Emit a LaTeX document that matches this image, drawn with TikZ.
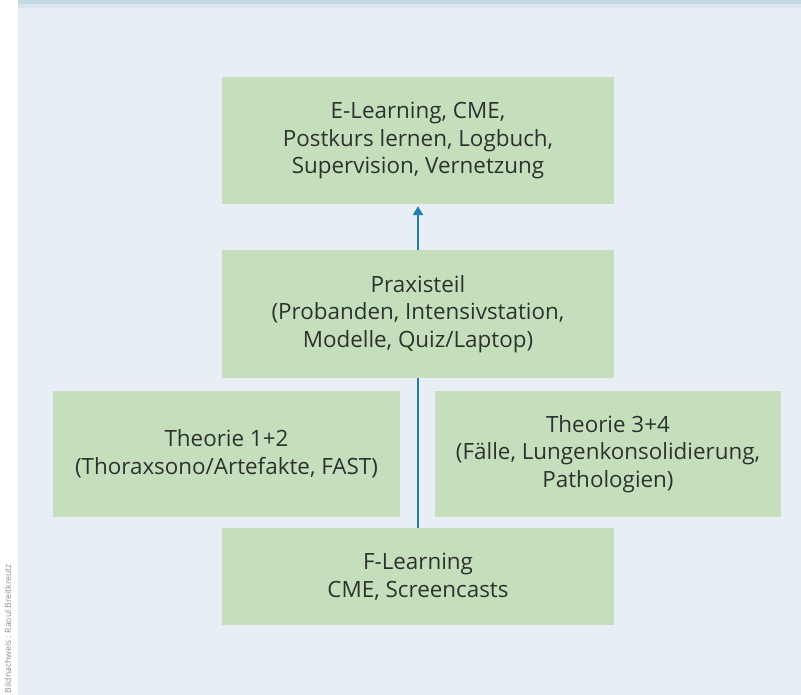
\documentclass[tikz,border=0pt]{standalone}
\usepackage{fontspec}
\setmainfont{Open Sans}
\usetikzlibrary{arrows.meta}
\definecolor{panelbg}{HTML}{E7EEF6}
\definecolor{panelband}{HTML}{C3D8E3}
\definecolor{boxgreen}{HTML}{C5DFBD}
\definecolor{textgrey}{HTML}{2E322F}
\definecolor{linkblue}{HTML}{1F7FAE}
\definecolor{creditgrey}{HTML}{8E8E8E}
\begin{document}
\begin{tikzpicture}[x=1pt,y=-1pt,
  box/.style={fill=boxgreen, draw=none, inner sep=0pt, align=center,
    text=textgrey, font=\fontsize{22.4}{27.5}\selectfont},
  link/.style={draw=linkblue, line width=2.4pt}]
  % page and panel
  \useasboundingbox (0,0) rectangle (801,695);
  \fill[white] (0,0) rectangle (801,695);
  \fill[panelbg] (18,0) rectangle (801,695);
  \fill[panelband] (18,0) rectangle (801,4);
  \fill[panelband!40!panelbg] (18,4) rectangle (801,8);
  % boxes
  \node[box, minimum width=392, minimum height=127] (post) at (418,140.5)
    {E-Learning, CME,\\Postkurs lernen, Logbuch,\\Supervision, Vernetzung};
  \node[box, minimum width=392, minimum height=128] (praxis) at (418,314)
    {Praxisteil\\(Probanden, Intensivstation,\\Modelle, Quiz/Laptop)};
  \node[box, minimum width=347, minimum height=126] (th12) at (226.5,454)
    {Theorie 1+2\\(Thoraxsono/Artefakte, FAST)};
  \node[box, minimum width=346, minimum height=126] (th34) at (608,454)
    {Theorie 3+4\\(Fälle, Lungenkonsolidierung,\\Pathologien)};
  \node[box, minimum width=392, minimum height=97] (pre) at (418,576.5)
    {F-Learning\\CME, Screencasts};
  % connectors
  \draw[link] (pre.north) -- (praxis.south);
  \draw[link, -{Triangle[length=9pt,width=10pt]}] (praxis.north) -- ([yshift=-2pt]post.south);
  % picture credit
  \node[rotate=90, anchor=east, text=creditgrey, inner sep=0pt,
    font=\fontsize{8.6}{10}\selectfont] (credit) at (8,564)
    {Bildnachweis : Raoul Breitkreutz};
\end{tikzpicture}
\end{document}
